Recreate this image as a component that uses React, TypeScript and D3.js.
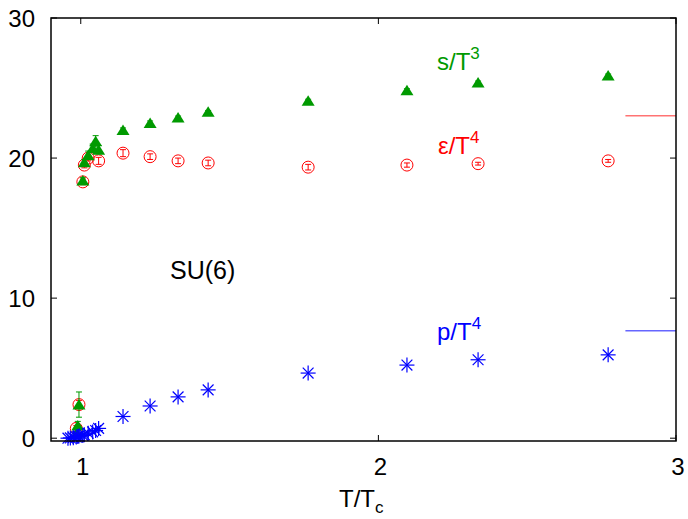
import React from "react";
import * as d3 from "d3";

// s/T^3 (green triangles)
const T_S = [0.985, 0.99, 0.994, 1.007, 1.012, 1.025, 1.04, 1.05, 1.06, 1.142, 1.233, 1.327, 1.428, 1.764, 2.096, 2.335, 2.772];
const S = [0.3, 0.9, 2.4, 18.4, 19.7, 20.2, 20.7, 21.2, 20.6, 22.0, 22.5, 22.9, 23.3, 24.1, 24.85, 25.4, 25.9];
const S_ERR = [0.1, 0.3, 0.9, 0.2, 0.2, 0.3, 0.3, 0.4, 0.3, 0.15, 0.15, 0.1, 0.1, 0.1, 0.1, 0.1, 0.1];

// epsilon/T^4 (red open circles)
const T_E = [0.985, 0.994, 1.007, 1.012, 1.025, 1.06, 1.142, 1.233, 1.327, 1.428, 1.764, 2.096, 2.335, 2.772];
const E = [0.7, 2.4, 18.3, 19.5, 20.0, 19.8, 20.35, 20.1, 19.8, 19.65, 19.35, 19.5, 19.6, 19.8];
const E_ERR = [0.2, 0.3, 0.2, 0.2, 0.2, 0.25, 0.25, 0.2, 0.2, 0.2, 0.2, 0.15, 0.1, 0.1];

// p/T^4 (blue stars)
const T_P = [0.957, 0.965, 0.975, 0.985, 0.99, 0.994, 1.007, 1.012, 1.025, 1.04, 1.05, 1.06, 1.142, 1.233, 1.327, 1.428, 1.764, 2.096, 2.335, 2.772];
const P = [0.0, 0.02, 0.04, 0.08, 0.12, 0.15, 0.2, 0.25, 0.35, 0.45, 0.55, 0.7, 1.55, 2.3, 2.95, 3.45, 4.65, 5.22, 5.6, 5.95];

// Stefan-Boltzmann limits
const SB_T = [2.83, 3];
const E_SB = 23.03;
const P_SB = 7.676;

const X_TICKS = [1, 2, 3];
const Y_TICKS = [0, 10, 20, 30];

const W = 688, H = 519;
const L = 51, R = 676, TOP = 18, BOT = 441;
const FONT = "'Liberation Sans', Arial, Helvetica, sans-serif";
const GREEN = "#009a00";
const RED = "#ff0000";
const BLUE = "#0000ff";

export default function App() {
  const x = d3.scaleLinear().domain([0.9, 3]).range([L, R]);
  const y = d3.scaleLinear().domain([-0.2, 30]).range([BOT, TOP]);
  const tri = (cx: number, cy: number) => {
    const p = d3.path();
    p.moveTo(cx, cy - 5.5);
    p.lineTo(cx - 6.5, cy + 5);
    p.lineTo(cx + 6.5, cy + 5);
    p.closePath();
    return p.toString();
  };
  const errBar = (cx: number, v: number, e: number, color: string, key: string) => {
    const y1 = y(v - e), y2 = y(v + e);
    return (
      <g key={key} stroke={color} strokeWidth={1}>
        <line x1={cx} x2={cx} y1={y1} y2={y2} />
        <line x1={cx - 3} x2={cx + 3} y1={y1} y2={y1} />
        <line x1={cx - 3} x2={cx + 3} y1={y2} y2={y2} />
      </g>
    );
  };
  const tl = 6;
  return (
    <svg width={W} height={H} style={{ position: "absolute", left: 0, top: 0, background: "#fff" }} fontFamily={FONT}>
      <rect x={0} y={0} width={W} height={H} fill="#fff" />
      {/* ticks */}
      <g stroke="#000" strokeWidth={1}>
        {X_TICKS.map((t) => (
          <g key={"xt" + t}>
            <line x1={x(t)} x2={x(t)} y1={BOT} y2={BOT - tl} />
            <line x1={x(t)} x2={x(t)} y1={TOP} y2={TOP + tl} />
          </g>
        ))}
        {Y_TICKS.map((t) => (
          <g key={"yt" + t}>
            <line x1={L} x2={L + tl} y1={y(t)} y2={y(t)} />
            <line x1={R} x2={R - tl} y1={y(t)} y2={y(t)} />
          </g>
        ))}
      </g>
      {/* tick labels */}
      <g fontSize={24} fill="#000">
        {X_TICKS.map((t) => (
          <text key={"xl" + t} x={x(t) + 2} y={475} textAnchor="middle">{t}</text>
        ))}
        {Y_TICKS.map((t) => (
          <text key={"yl" + t} x={35} y={y(t) + 8.5} textAnchor="end">{t}</text>
        ))}
      </g>
      {/* SB lines */}
      <line x1={x(SB_T[0])} x2={x(SB_T[1])} y1={y(E_SB)} y2={y(E_SB)} stroke={RED} strokeOpacity={0.55} strokeWidth={1.5} />
      <line x1={x(SB_T[0])} x2={x(SB_T[1])} y1={y(P_SB)} y2={y(P_SB)} stroke={BLUE} strokeOpacity={0.6} strokeWidth={1.5} />
      {/* epsilon */}
      <g>
        {T_E.map((t, i) => (
          <g key={"e" + i}>
            {errBar(x(t), E[i], E_ERR[i], RED, "ee" + i)}
            <circle cx={x(t)} cy={y(E[i])} r={6} fill="none" stroke={RED} strokeWidth={1} />
          </g>
        ))}
      </g>
      {/* s */}
      <g>
        {T_S.map((t, i) => (
          <g key={"s" + i}>
            <path d={tri(x(t), y(S[i]))} fill={GREEN} />
            {errBar(x(t), S[i], S_ERR[i], GREEN, "se" + i)}
          </g>
        ))}
      </g>
      {/* p */}
      <g stroke={BLUE} strokeWidth={1.2}>
        {T_P.map((t, i) => {
          const cx = x(t), cy = y(P[i]), r = 7.5;
          const d = r * 0.72;
          return (
            <g key={"p" + i}>
              <line x1={cx - r} x2={cx + r} y1={cy} y2={cy} />
              <line x1={cx} x2={cx} y1={cy - r} y2={cy + r} />
              <line x1={cx - d} x2={cx + d} y1={cy - d} y2={cy + d} />
              <line x1={cx - d} x2={cx + d} y1={cy + d} y2={cy - d} />
            </g>
          );
        })}
      </g>
      {/* frame */}
      <rect x={L} y={TOP} width={R - L} height={BOT - TOP} fill="none" stroke="#000" strokeWidth={1.5} />
      {/* labels */}
      <text x={437} y={70} fontSize={24} fill={GREEN}>s/T<tspan dy={-11} fontSize={17}>3</tspan></text>
      <text x={438} y={154} fontSize={24} fill={RED}>ε/T<tspan dy={-11} fontSize={17}>4</tspan></text>
      <text x={437} y={340} fontSize={24} fill={BLUE}>p/T<tspan dy={-11} fontSize={17}>4</tspan></text>
      <text x={170} y={279} fontSize={25} fill="#000">SU(6)</text>
      <text x={339} y={507} fontSize={24} fill="#000">T/T<tspan dy={6} fontSize={17}>c</tspan></text>
    </svg>
  );
}
